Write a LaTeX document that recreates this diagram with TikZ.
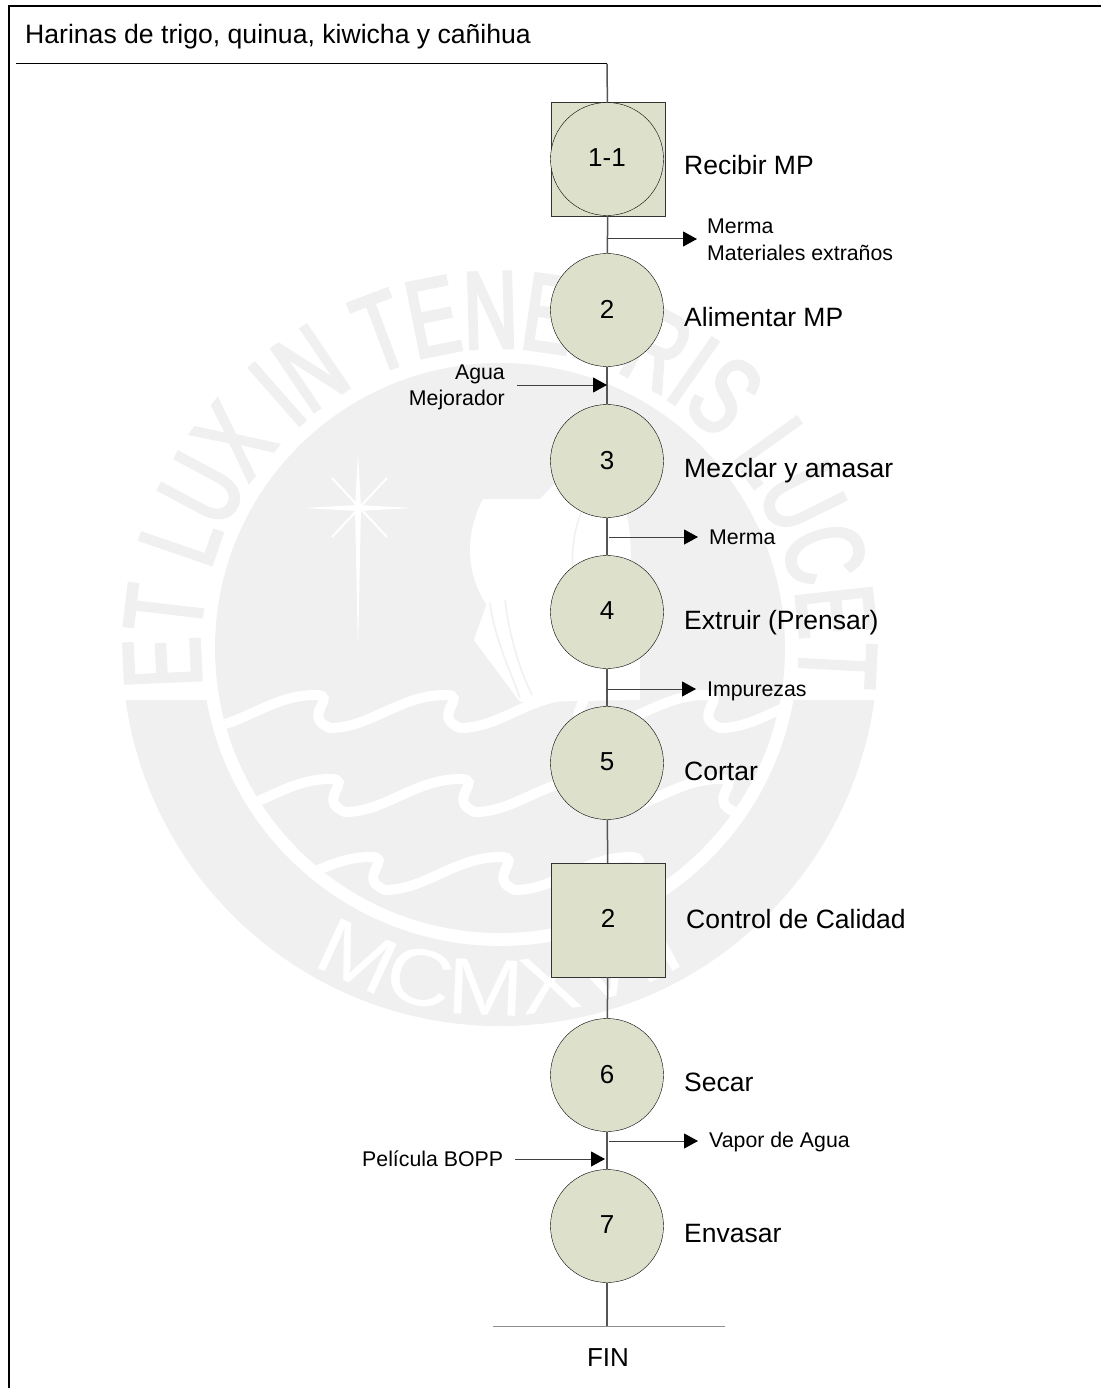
\documentclass[tikz,border=0pt]{standalone}
\usepackage{fontspec}
\setmainfont{Liberation Sans}
\newfontfamily\sellofont[FakeStretch=0.68,FakeBold=3]{Liberation Sans}
\newfontfamily\annofont[FakeStretch=1.15]{Liberation Sans}
\usetikzlibrary{arrows.meta,decorations.text}
\definecolor{proceso}{HTML}{DDE1CB}
\definecolor{sello}{HTML}{F0F0F0}
\definecolor{linea}{HTML}{555555}
\tikzset{
    operacion/.style={circle,draw=black,fill=proceso,minimum size=113pt,inner sep=0pt,text depth=2pt,font=\fontsize{26}{30}\selectfont},
    control/.style={rectangle,draw=black!80,fill=proceso,minimum size=114pt,inner sep=0pt,text depth=4pt,font=\fontsize{26}{30}\selectfont},
    etiqueta/.style={anchor=base west,inner sep=0pt,font=\fontsize{26.5}{30}\selectfont},
    nota/.style={anchor=base west,inner sep=0pt,font=\fontsize{21.3}{25}\selectfont},
    flujo/.style={draw=linea,line width=1.5pt},
    salida/.style={draw=black!75,line width=1pt,-{Triangle[length=14pt,width=15pt,fill=black,color=black]}},
    olaje/.style={white,line width=10pt,line cap=round},
    ola/.pic={
        \draw[olaje] (0,0) .. controls (40,0) and (70,-33) .. (115,-33) .. controls (140,-33) and (100,-12) .. (130,0);
    }
}
\begin{document}
\begin{tikzpicture}[x=1pt,y=-1pt]
    \useasboundingbox (0,0) rectangle (1101,1388);
    % Sello de fondo
    \fill[sello] (500,648) circle (285pt);
    \fill[sello] (125.6,700) arc[start angle=187.9,end angle=352.1,radius=378pt]
        -- (793.4,700) arc[start angle=-10.05,end angle=-169.95,radius=298pt] -- cycle;
    \begin{scope}
        \clip (500,648) circle (285pt);
        \foreach \xo/\yo in {200/728,330/728,460/728,590/728,720/728,215/812,345/812,475/812,605/812,735/812,255/890,385/890,515/890,645/890}
            \pic at (\xo,\yo) {ola};
        % Nave
        \fill[white] (483,499) -- (540,499) -- (560,478) -- (622,500) .. controls (634,530) and (634,580) .. (620,625)
            -- (490,610) .. controls (468,580) and (462,540) .. (483,499) -- cycle;
        \fill[white] (487,603) -- (474,640) -- (520,702) -- (640,700) -- (640,600) -- cycle;
        \draw[sello,line width=1.5pt] (582,510) .. controls (570,540) and (570,570) .. (578,600);
        \draw[sello,line width=1.5pt] (490,603) .. controls (495,640) and (510,670) .. (520,698);
        \draw[sello,line width=1.5pt] (505,600) .. controls (510,640) and (520,670) .. (532,695);
        % Estrella
        \fill[white] (358,452) -- (361,508) -- (358,652) -- (355,508) -- cycle;
        \fill[white] (303,508) -- (358,505) -- (413,508) -- (358,511) -- cycle;
        \draw[white,line width=2pt] (332,478) -- (387,537);
        \draw[white,line width=2pt] (387,478) -- (332,537);
    \end{scope}
    \path[decorate,decoration={text along path,text align=center,text={|\fontsize{110}{110}\sellofont\color{sello}|ET LUX IN TENEBRIS LUCET}}]
        (201.6,679.4) arc[start angle=186,end angle=-6,radius=300pt];
    \path[decorate,decoration={text along path,text align=center,text={|\fontsize{80}{80}\annofont\color{white}|MCMXVII}}]
        (289.5,948.6) arc[start angle=235,end angle=305,radius=367pt];
    % Marco
    \draw[line width=2.3pt] (9,1388) -- (9,6) -- (1101,6);
    % Operaciones
    \node[control] (recibirbox) at (608,159) {};
    \node[operacion] (recibir) at (607,159) {1-1};
    \node[operacion] (alimentar) at (607,310) {2};
    \node[operacion] (mezclar) at (607,461) {3};
    \node[operacion] (extruir) at (607,612) {4};
    \node[operacion] (cortar) at (607,763) {5};
    \node[control] (calidad) at (608,920) {2};
    \node[operacion] (secar) at (607,1075) {6};
    \node[operacion] (envasar) at (607,1226) {7};
    % Puntos libres
    \coordinate (inicio) at (16,64);
    \coordinate (codo) at (607,64);
    \coordinate (fin) at (607,1326);
    \coordinate (finizq) at (493,1326);
    \coordinate (finder) at (725,1326);
    \coordinate (merma1) at (607,239);
    \coordinate (merma1fin) at (697,239);
    \coordinate (aguaini) at (517,385);
    \coordinate (aguafin) at (607,385);
    \coordinate (merma2) at (609,537);
    \coordinate (merma2fin) at (698,537);
    \coordinate (impureza) at (607,689);
    \coordinate (impurezafin) at (696,689);
    \coordinate (vapor) at (609,1141);
    \coordinate (vaporfin) at (698,1141);
    \coordinate (bopp) at (515,1159);
    \coordinate (boppfin) at (605,1159);
    % Flujo principal
    \draw[black,line width=1pt] (inicio) -- (codo);
    \draw[flujo] (codo) -- (recibirbox);
    \draw[flujo] (recibirbox) -- (alimentar);
    \draw[flujo] (alimentar) -- (mezclar);
    \draw[flujo] (mezclar) -- (extruir);
    \draw[flujo] (extruir) -- (cortar);
    \draw[flujo] (cortar) -- (calidad);
    \draw[flujo] (calidad) -- (secar);
    \draw[flujo] (secar) -- (envasar);
    \draw[flujo] (envasar) -- (fin);
    \draw[black!45,line width=1pt] (finizq) -- (finder);
    % Entradas y salidas
    \draw[salida] (merma1) -- (merma1fin);
    \draw[salida] (aguaini) -- (aguafin);
    \draw[salida] (merma2) -- (merma2fin);
    \draw[salida] (impureza) -- (impurezafin);
    \draw[salida] (vapor) -- (vaporfin);
    \draw[salida] (bopp) -- (boppfin);
    % Textos
    \node[anchor=base west,inner sep=0pt,font=\fontsize{26.6}{30}\selectfont] (titulo) at (25,44) {Harinas de trigo, quinua, kiwicha y cañihua};
    \node[etiqueta] (trecibir) at (684,175) {Recibir MP};
    \node[etiqueta] (talimentar) at (684,326) {Alimentar MP};
    \node[etiqueta] (tmezclar) at (684,477) {Mezclar y amasar};
    \node[etiqueta] (textruir) at (684,629) {Extruir (Prensar)};
    \node[etiqueta] (tcortar) at (684,780) {Cortar};
    \node[etiqueta] (tcalidad) at (686,928) {Control de Calidad};
    \node[etiqueta] (tsecar) at (684,1091) {Secar};
    \node[etiqueta] (tenvasar) at (684,1242) {Envasar};
    \node[nota] (tmerma1) at (707,234) {Merma};
    \node[nota] (tmateriales) at (707,260) {Materiales extraños};
    \node[nota,anchor=base east] (tagua) at (505,379) {Agua};
    \node[nota,anchor=base east] (tmejorador) at (505,405) {Mejorador};
    \node[nota] (tmerma2) at (709,544) {Merma};
    \node[nota] (timpurezas) at (707,696) {Impurezas};
    \node[nota] (tvapor) at (709,1147) {Vapor de Agua};
    \node[nota] (tbopp) at (362,1166) {Película BOPP};
    \node[anchor=base,inner sep=0pt,font=\fontsize{26}{30}\selectfont] (tfin) at (608,1366) {FIN};
\end{tikzpicture}
\end{document}
